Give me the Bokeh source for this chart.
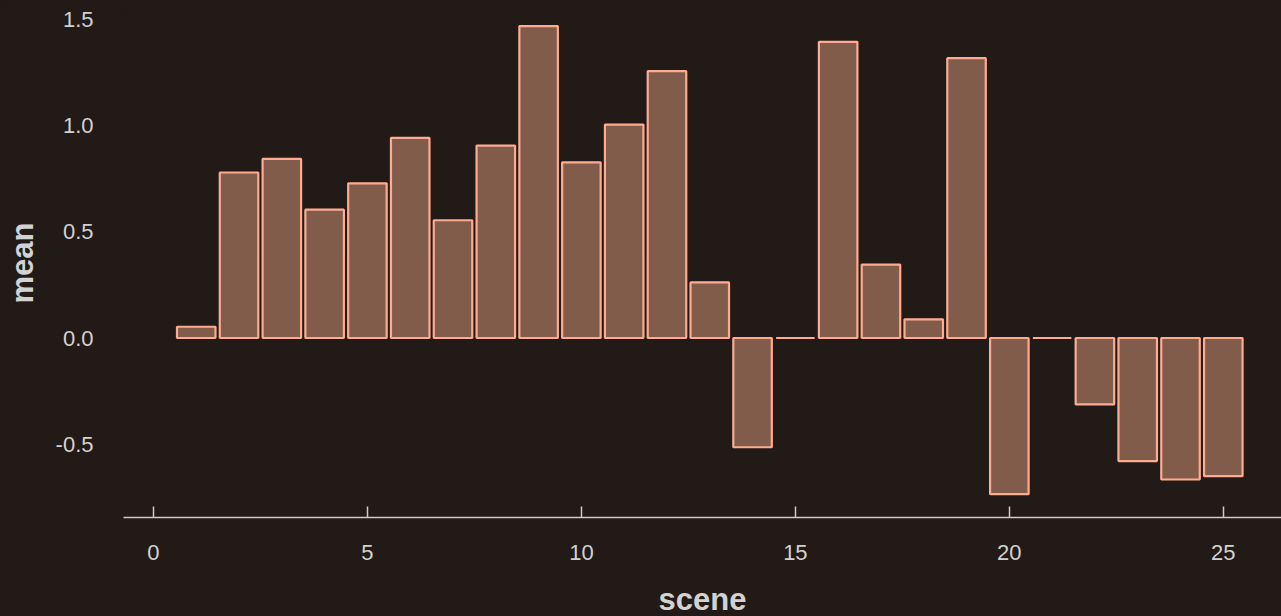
from bokeh.plotting import figure
from bokeh.models import FixedTicker, Range1d, NumeralTickFormatter
from bokeh.embed import file_html
from bokeh.resources import INLINE

scene = list(range(1, 26))
mean = [0.053, 0.780, 0.844, 0.605, 0.729, 0.943, 0.555, 0.907, 1.470, 0.828,
        1.006, 1.258, 0.262, -0.515, 0.0, 1.396, 0.346, 0.088, 1.319, -0.736,
        0.0, -0.313, -0.580, -0.667, -0.651]
x_ticks = [0, 5, 10, 15, 20, 25]
y_ticks = [-0.5, 0.0, 0.5, 1.0, 1.5]

BG = "#211a16"
TXT = "#d2d2d2"
FONT = "Liberation Sans"

p = figure(frame_width=1158, frame_height=509, output_backend="svg",
           toolbar_location=None,
           x_range=Range1d(-0.70, 26.36), y_range=Range1d(-0.846, 1.553),
           min_border_left=123, min_border_right=0, min_border_top=8,
           min_border_bottom=99)
p.background_fill_color = BG
p.border_fill_color = BG
p.outline_line_color = None
p.grid.grid_line_color = None

p.vbar(x=scene, top=mean, bottom=0, width=0.9,
       fill_color="#825c4b", line_color="#ffab91", line_width=2.2)

xa = p.xaxis[0]
xa.ticker = FixedTicker(ticks=x_ticks)
xa.axis_label = "scene"
xa.axis_line_color = "#cccccc"
xa.axis_line_width = 1.5
xa.major_tick_line_color = "#cccccc"
xa.major_tick_line_width = 1.5
xa.major_tick_in = 11
xa.major_tick_out = 0
xa.minor_tick_line_color = None
xa.major_label_standoff = 27
xa.axis_label_standoff = 19
xa.axis_label_text_line_height = 0.75

ya = p.yaxis[0]
ya.ticker = FixedTicker(ticks=y_ticks)
ya.formatter = NumeralTickFormatter(format="0.0")
ya.axis_label = "mean"
ya.axis_line_color = None
ya.major_tick_line_color = None
ya.minor_tick_line_color = None
ya.major_tick_in = 0
ya.major_tick_out = 0
ya.major_label_standoff = 30
ya.axis_label_standoff = 13

for ax in (xa, ya):
    ax.major_label_text_font = FONT
    ax.major_label_text_font_size = "22px"
    ax.major_label_text_color = TXT
    ax.axis_label_text_font = FONT
    ax.axis_label_text_font_size = "31px"
    ax.axis_label_text_font_style = "bold"
    ax.axis_label_text_color = TXT

html = file_html(p, INLINE)
html = html.replace("<head>", "<head><style>html,body{background:%s;}</style>" % BG, 1)
open("out.html", "w").write(html)
